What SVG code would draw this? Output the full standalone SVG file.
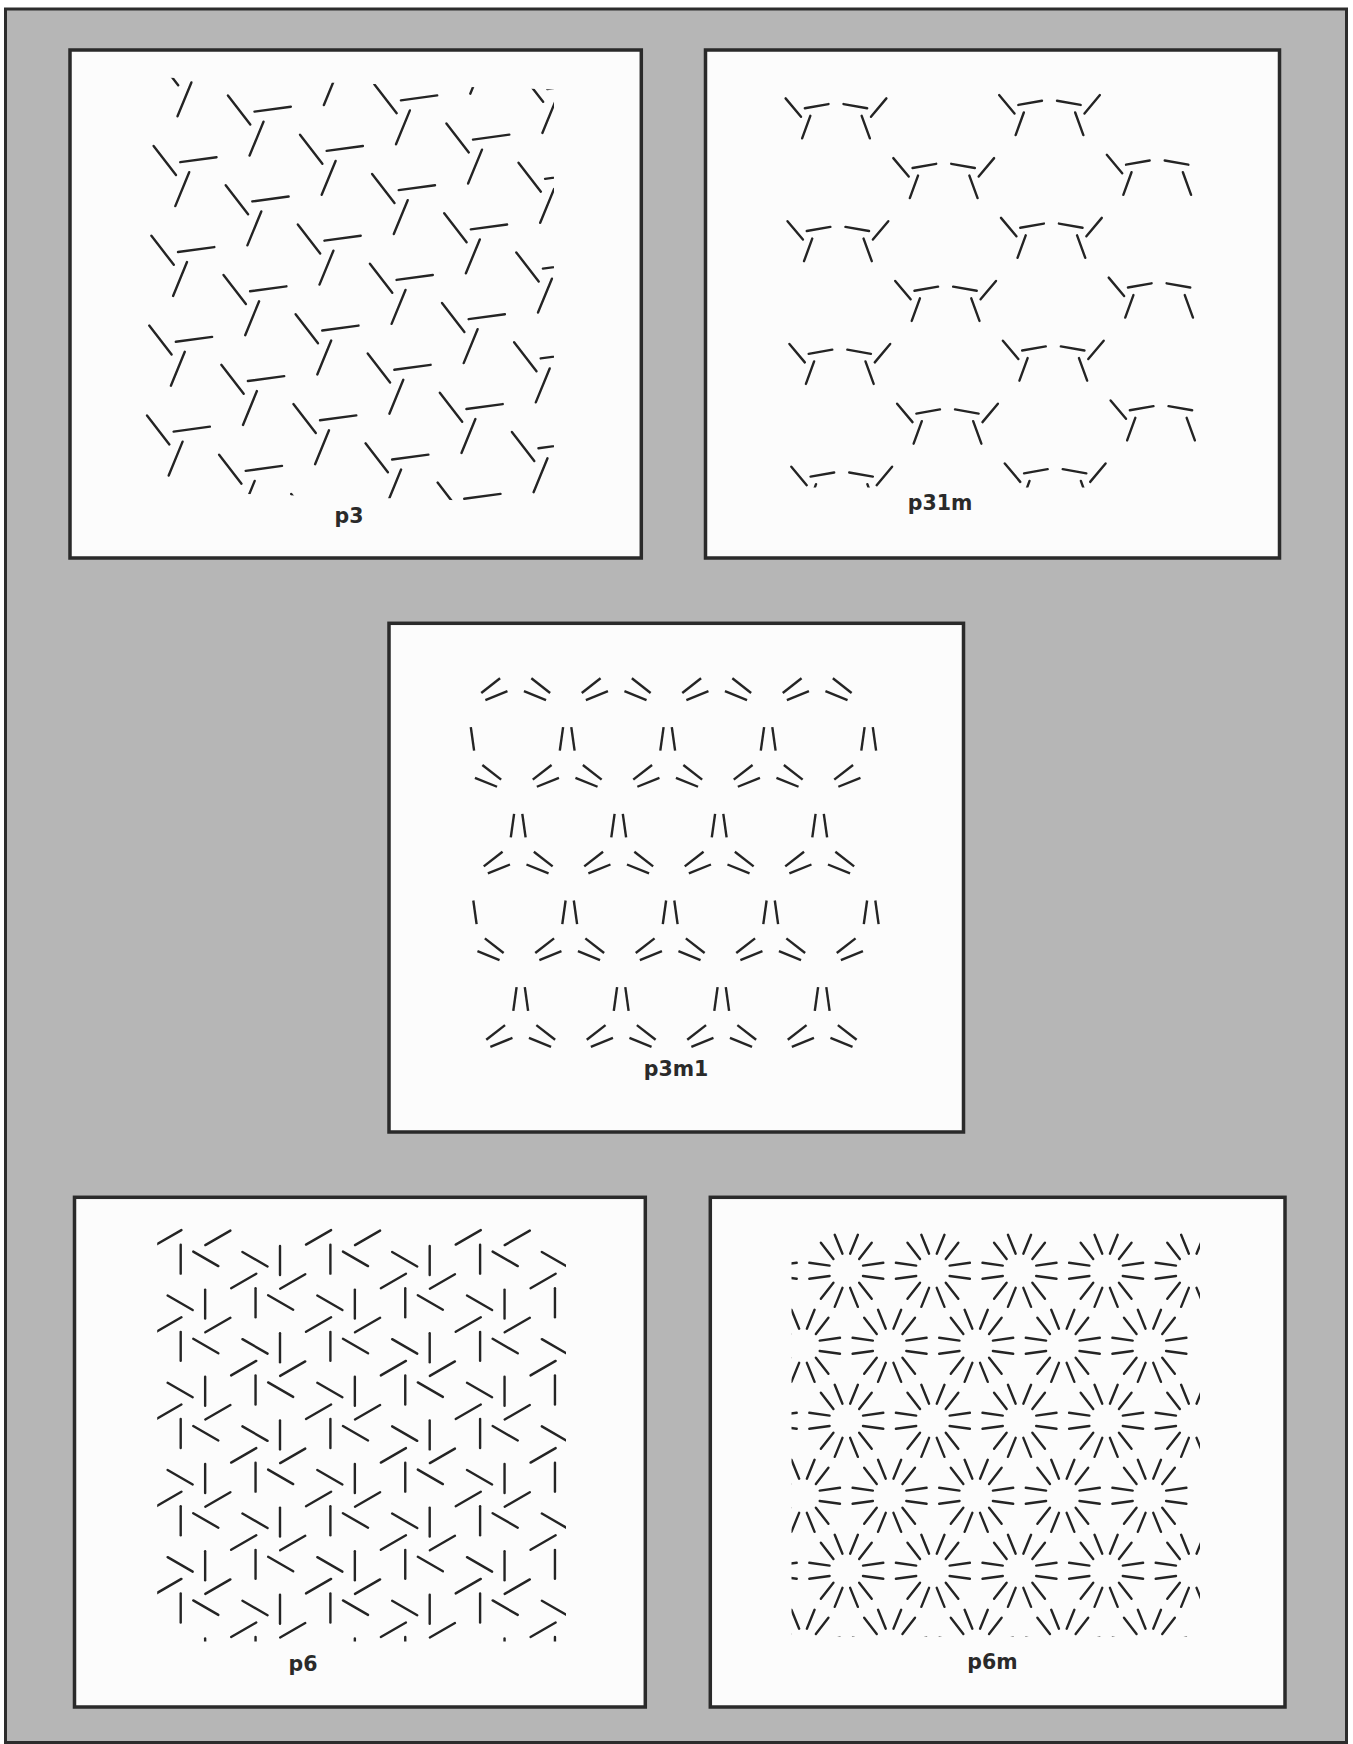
<svg xmlns="http://www.w3.org/2000/svg" width="1353" height="1744" viewBox="0 0 1353 1744">
<style>
.bg{fill:#b6b6b6;stroke:#2c2c2c;stroke-width:3}
.panel{fill:#fcfcfc;stroke:#2a2a2a;stroke-width:3.5}
.k{stroke:#242424;stroke-width:2.4;stroke-linecap:round;fill:none}
.lbl{font-family:"DejaVu Sans",sans-serif;font-weight:bold;font-size:20.5px;fill:#2a2a2a;text-anchor:middle}
</style>
<defs>
<!-- p3 motif -->
<line id="p3s" x1="-5.8" y1="5.2" x2="-28.2" y2="-23.8"/>
<g id="p3m"><use href="#p3s"/><use href="#p3s" transform="rotate(120)"/><use href="#p3s" transform="rotate(240)"/></g>
<g id="p3c"><use href="#p3m" transform="translate(2.2,-89.8)"/><use href="#p3m"/><use href="#p3m" transform="translate(-2.2,89.8)"/><use href="#p3m" transform="translate(-4.4,179.6)"/><use href="#p3m" transform="translate(-6.6,269.4)"/><use href="#p3m" transform="translate(-8.8,359.2)"/></g>
<clipPath id="cp3"><polygon points="145,77 554,89.5 554,503 145,491"/></clipPath>
<!-- p31m motif -->
<line id="q3s" x1="-0.56" y1="-5.37" x2="23.08" y2="-9.54"/>
<g id="q3t"><use href="#q3s"/><use href="#q3s" transform="rotate(120)"/><use href="#q3s" transform="rotate(240)"/></g>
<g id="q3m"><use href="#q3t" transform="translate(-30.6,7.4)"/><use href="#q3t" transform="scale(-1,1) translate(-30.6,7.4)"/></g>
<g id="q3r"><use href="#q3t" transform="translate(-30.6,7.4)"/><g transform="scale(-1,1) translate(-30.6,7.4)"><use href="#q3s"/><use href="#q3s" transform="rotate(120)"/></g></g>
<clipPath id="cq3"><rect x="700" y="85" width="570" height="402.5"/></clipPath>
<!-- p3m1 motif -->
<g id="r3p"><line x1="-7.4" y1="-13.8" x2="-4.1" y2="-37.4"/><line x1="7.4" y1="-13.8" x2="4.1" y2="-37.4"/></g>
<g id="r3t"><use href="#r3p"/><use href="#r3p" transform="rotate(120)"/><use href="#r3p" transform="rotate(240)"/></g>
<g id="r3b"><use href="#r3p" transform="rotate(120)"/><use href="#r3p" transform="rotate(240)"/></g>
<g id="r3L"><line x1="7.4" y1="-13.8" x2="4.1" y2="-37.4"/><use href="#r3p" transform="rotate(120)"/></g>
<g id="r3R"><use href="#r3p"/><use href="#r3p" transform="rotate(240)"/></g>
<!-- p6 cell -->
<g id="p6c">
<line x1="-24.4" y1="-0.4" x2="0.7" y2="-14.9"/>
<line x1="24.6" y1="0.1" x2="49.7" y2="-14.4"/>
<line x1="0" y1="-0.35" x2="0" y2="28.65"/>
<line x1="99.3" y1="1" x2="99.3" y2="30"/>
<line x1="12.55" y1="6.6" x2="37.65" y2="21.1"/>
<line x1="61.75" y1="6.95" x2="86.85" y2="21.45"/>
</g>
<g id="p6r"><use href="#p6c" transform="translate(-149.7,0)"/><use href="#p6c"/><use href="#p6c" transform="translate(149.7,0)"/><use href="#p6c" transform="translate(299.4,0)"/><use href="#p6c" transform="translate(449.1,0)"/></g>
<clipPath id="cp6"><rect x="157.2" y="1225" width="408.8" height="416.5"/></clipPath>
<!-- p6m star -->
<g id="s6"><line x1="16.7" y1="5.2" x2="37" y2="8"/><line x1="16.7" y1="-5.2" x2="37" y2="-8"/></g>
<g id="st"><use href="#s6"/><use href="#s6" transform="rotate(60)"/><use href="#s6" transform="rotate(120)"/><use href="#s6" transform="rotate(180)"/><use href="#s6" transform="rotate(240)"/><use href="#s6" transform="rotate(300)"/></g>
<g id="stE"><use href="#st" transform="translate(-86.6,0)"/><use href="#st"/><use href="#st" transform="translate(86.6,0)"/><use href="#st" transform="translate(173.2,0)"/><use href="#st" transform="translate(259.8,0)"/><use href="#st" transform="translate(346.4,0)"/></g>
<g id="stO"><use href="#st"/><use href="#st" transform="translate(86.6,0)"/><use href="#st" transform="translate(173.2,0)"/><use href="#st" transform="translate(259.8,0)"/><use href="#st" transform="translate(346.4,0)"/></g>
<clipPath id="cp6m"><rect x="791.5" y="1233" width="408.5" height="404"/></clipPath>
</defs>

<rect class="bg" x="5.5" y="9" width="1341" height="1733.5"/>

<g id="panel-p3">
<rect class="panel" x="70" y="50" width="571.3" height="508"/>
<g class="k" clip-path="url(#cp3)">
<use href="#p3c" transform="translate(181.8,169.8)"/>
<use href="#p3c" transform="translate(256.1,119.25)"/>
<use href="#p3c" transform="translate(328.2,158.5)"/>
<use href="#p3c" transform="translate(402.5,107.95)"/>
<use href="#p3c" transform="translate(474.6,147.2)"/>
<use href="#p3c" transform="translate(548.9,96.65)"/>
</g>
<text class="lbl" x="349" y="522.5">p3</text>
</g>

<g id="panel-p31m">
<rect class="panel" x="705.5" y="50" width="574" height="508"/>
<g class="k" clip-path="url(#cq3)">
<use href="#q3m" transform="translate(836,106.2)"/>
<use href="#q3m" transform="translate(1049.5,102.9)"/>
<use href="#q3m" transform="translate(943.7,165.95)"/>
<use href="#q3r" transform="translate(1157.2,162.65)"/>
<use href="#q3m" transform="translate(837.9,229)"/>
<use href="#q3m" transform="translate(1051.4,225.7)"/>
<use href="#q3m" transform="translate(945.6,288.75)"/>
<use href="#q3r" transform="translate(1159.1,285.45)"/>
<use href="#q3m" transform="translate(839.8,351.8)"/>
<use href="#q3m" transform="translate(1053.3,348.5)"/>
<use href="#q3m" transform="translate(947.5,411.55)"/>
<use href="#q3r" transform="translate(1161,408.25)"/>
<use href="#q3m" transform="translate(841.7,474.6)"/>
<use href="#q3m" transform="translate(1055.2,471.3)"/>
</g>
<text class="lbl" x="940" y="509.5">p31m</text>
</g>

<g id="panel-p3m1">
<rect class="panel" x="389" y="623.3" width="574.5" height="508.7"/>
<g class="k" style="stroke-linecap:butt">
<use href="#r3b" transform="translate(515.7,677.8)"/>
<use href="#r3b" transform="translate(616.2,677.8)"/>
<use href="#r3b" transform="translate(716.7,677.8)"/>
<use href="#r3b" transform="translate(817.2,677.8)"/>
<use href="#r3L" transform="translate(466.7,764.5)"/>
<use href="#r3t" transform="translate(567.2,764.5)"/>
<use href="#r3t" transform="translate(667.7,764.5)"/>
<use href="#r3t" transform="translate(768.2,764.5)"/>
<use href="#r3R" transform="translate(868.7,764.5)"/>
<use href="#r3t" transform="translate(518.2,851.2)"/>
<use href="#r3t" transform="translate(618.7,851.2)"/>
<use href="#r3t" transform="translate(719.2,851.2)"/>
<use href="#r3t" transform="translate(819.7,851.2)"/>
<use href="#r3L" transform="translate(469.2,937.9)"/>
<use href="#r3t" transform="translate(569.7,937.9)"/>
<use href="#r3t" transform="translate(670.2,937.9)"/>
<use href="#r3t" transform="translate(770.7,937.9)"/>
<use href="#r3R" transform="translate(871.2,937.9)"/>
<use href="#r3t" transform="translate(520.7,1024.6)"/>
<use href="#r3t" transform="translate(621.2,1024.6)"/>
<use href="#r3t" transform="translate(721.7,1024.6)"/>
<use href="#r3t" transform="translate(822.2,1024.6)"/>
</g>
<text class="lbl" x="676" y="1076.3">p3m1</text>
</g>

<g id="panel-p6">
<rect class="panel" x="74.5" y="1197.3" width="570.8" height="509.7"/>
<g class="k" clip-path="url(#cp6)">
<use href="#p6r" transform="translate(180.7,1245)"/>
<use href="#p6r" transform="translate(255.55,1288.6)"/>
<use href="#p6r" transform="translate(180.7,1332.2)"/>
<use href="#p6r" transform="translate(255.55,1375.8)"/>
<use href="#p6r" transform="translate(180.7,1419.4)"/>
<use href="#p6r" transform="translate(255.55,1463)"/>
<use href="#p6r" transform="translate(180.7,1506.6)"/>
<use href="#p6r" transform="translate(255.55,1550.2)"/>
<use href="#p6r" transform="translate(180.7,1593.8)"/>
<use href="#p6r" transform="translate(255.55,1637.4)"/>
</g>
<text class="lbl" x="303" y="1671">p6</text>
</g>

<g id="panel-p6m">
<rect class="panel" x="710.3" y="1197.3" width="574.7" height="509.7"/>
<g class="k" clip-path="url(#cp6m)">
<use href="#stE" transform="translate(846.3,1270.8)"/>
<use href="#stO" transform="translate(803,1345.8)"/>
<use href="#stE" transform="translate(846.3,1420.8)"/>
<use href="#stO" transform="translate(803,1495.8)"/>
<use href="#stE" transform="translate(846.3,1570.8)"/>
<use href="#stO" transform="translate(803,1645.8)"/>
</g>
<text class="lbl" x="992.5" y="1668.5">p6m</text>
</g>
</svg>
